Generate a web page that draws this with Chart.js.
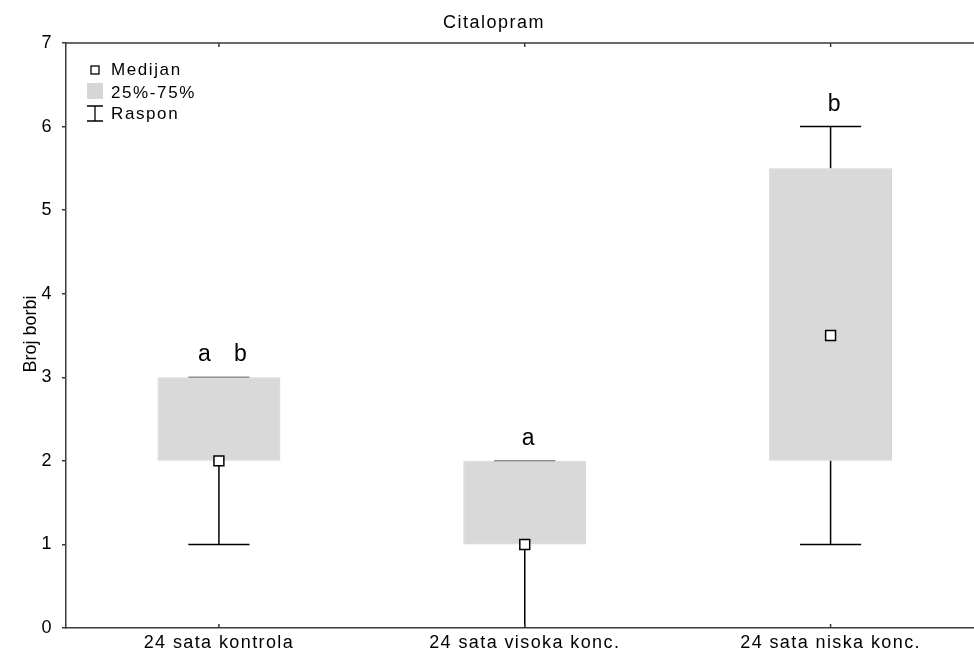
<!DOCTYPE html>
<html>
<head>
<meta charset="utf-8">
<script src="https://cdn.jsdelivr.net/npm/chart.js@4/dist/chart.umd.min.js"></script>
<style>
html,body{margin:0;padding:0;overflow:hidden;background:#fff;}
#wrap{width:992px;height:655px;position:relative;overflow:hidden;}
canvas{display:block;}
</style>
</head>
<body>
<div id="wrap"><canvas id="c" width="992" height="655" style="width:992px;height:655px"></canvas></div>
<script>
const categories = ["24 sata kontrola", "24 sata visoka konc.", "24 sata niska konc."];
const medians = [2, 1, 3.5];
const q1 = [2, 1, 2];
const q3 = [3, 2, 5.5];
const mins = [1, 0, 1];
const maxs = [3, 2, 6];
const letters = ["a   b", "a", "b"];
const yTicks = [0, 1, 2, 3, 4, 5, 6, 7];
const legendLabels = ["Medijan", "25%-75%", "Raspon"];
const titleText = "Citalopram";
const yTitle = "Broj borbi";

const FONT = "'Liberation Sans', Arial, sans-serif";
const AXIS = "#3a3a3a";

const extras = {
  id: 'extras',
  beforeDraw(chart) { chart.ctx.letterSpacing = '1.4px'; },
  beforeDatasetsDraw(chart) {
    const ctx = chart.ctx, xs = chart.scales.x, ys = chart.scales.y;
    const capHalf = xs.width / categories.length * 0.1;
    ctx.save();
    ctx.strokeStyle = '#000';
    ctx.lineWidth = 1.5;
    categories.forEach((c, i) => {
      const x = xs.getPixelForValue(i);
      const yMin = ys.getPixelForValue(mins[i]);
      const yMax = ys.getPixelForValue(maxs[i]);
      const yQ1 = ys.getPixelForValue(q1[i]);
      const yQ3 = ys.getPixelForValue(q3[i]);
      ctx.beginPath();
      ctx.moveTo(x, yQ1); ctx.lineTo(x, yMin);
      ctx.moveTo(x, yQ3); ctx.lineTo(x, yMax);
      ctx.stroke();
      ctx.beginPath();
      if (maxs[i] === q3[i]) { ctx.strokeStyle = '#8a8a8a'; } else { ctx.strokeStyle = '#000'; }
      ctx.moveTo(x - capHalf, yMax); ctx.lineTo(x + capHalf, yMax);
      ctx.stroke();
      ctx.strokeStyle = '#000';
      if (mins[i] > ys.min) {
        ctx.beginPath();
        ctx.moveTo(x - capHalf, yMin); ctx.lineTo(x + capHalf, yMin);
        ctx.stroke();
      }
    });
    ctx.restore();
  },
  afterDatasetsDraw(chart) {
    const ctx = chart.ctx, xs = chart.scales.x, ys = chart.scales.y, a = chart.chartArea;
    ctx.save();
    // top border with inward ticks
    ctx.strokeStyle = AXIS;
    ctx.lineWidth = 1.5;
    ctx.beginPath();
    ctx.moveTo(a.left, a.top); ctx.lineTo(a.right, a.top);
    categories.forEach((c, i) => {
      const x = xs.getPixelForValue(i);
      ctx.moveTo(x, a.top); ctx.lineTo(x, a.top + 4);
      ctx.moveTo(x, a.bottom); ctx.lineTo(x, a.bottom - 4);
    });
    ctx.stroke();
    // letters
    ctx.fillStyle = '#000';
    ctx.letterSpacing = '1px';
    ctx.font = "23px " + FONT;
    ctx.textAlign = 'center';
    ctx.textBaseline = 'alphabetic';
    letters.forEach((t, i) => {
      const x = xs.getPixelForValue(i);
      ctx.fillText(t, x + 4, ys.getPixelForValue(maxs[i]) - 16);
    });
    // title
    ctx.letterSpacing = '1.5px';
    ctx.font = "18px " + FONT;
    ctx.fillText(titleText, 494, 28);
    // y axis title
    ctx.save();
    ctx.letterSpacing = '0px';
    ctx.translate(36, 334);
    ctx.rotate(-Math.PI / 2);
    ctx.textAlign = 'center';
    ctx.fillText(yTitle, 0, 0);
    ctx.restore();
    // legend
    const lx = a.left + 29, ly = a.top + 27;
    ctx.letterSpacing = '1.6px';
    ctx.font = "17px " + FONT;
    ctx.textAlign = 'left';
    ctx.strokeStyle = '#000';
    ctx.lineWidth = 1.3;
    ctx.fillStyle = '#fff';
    ctx.fillRect(lx - 4, ly - 4, 8, 8);
    ctx.strokeRect(lx - 4, ly - 4, 8, 8);
    ctx.fillStyle = '#d6d6d6';
    ctx.fillRect(lx - 8, ly + 13, 16, 16);
    ctx.beginPath();
    ctx.moveTo(lx, ly + 36); ctx.lineTo(lx, ly + 51);
    ctx.moveTo(lx - 8, ly + 36); ctx.lineTo(lx + 8, ly + 36);
    ctx.moveTo(lx - 8, ly + 51); ctx.lineTo(lx + 8, ly + 51);
    ctx.stroke();
    ctx.fillStyle = '#000';
    ctx.fillText(legendLabels[0], lx + 16, ly + 5);
    ctx.fillText(legendLabels[1], lx + 16, ly + 28);
    ctx.fillText(legendLabels[2], lx + 16, ly + 49);
    ctx.restore();
  },
  afterDraw(chart) { chart.ctx.letterSpacing = '0px'; }
};

new Chart(document.getElementById('c'), {
  type: 'bar',
  data: {
    labels: categories,
    datasets: [
      {
        type: 'line',
        label: 'Medijan',
        data: medians,
        showLine: false,
        pointStyle: 'rect',
        pointRadius: 7,
        pointBackgroundColor: '#fff',
        pointBorderColor: '#000',
        pointBorderWidth: 1.5,
        order: 1
      },
      {
        label: '25%-75%',
        data: categories.map((c, i) => [q1[i], q3[i]]),
        backgroundColor: 'rgba(200,200,200,0.69)',
        borderColor: 'rgba(170,170,170,0.5)',
        borderWidth: 1,
        borderSkipped: false,
        categoryPercentage: 1,
        barPercentage: 0.402,
        order: 2
      }
    ]
  },
  options: {
    responsive: false,
    maintainAspectRatio: false,
    devicePixelRatio: 1,
    animation: false,
    events: [],
    layout: { padding: { top: 43, left: 0, right: 0, bottom: 0 } },
    plugins: { legend: { display: false }, tooltip: { enabled: false }, title: { display: false } },
    scales: {
      x: {
        grid: { display: false, drawTicks: false },
        border: { display: true, color: AXIS, width: 1.5 },
        ticks: { color: '#000', font: { family: FONT, size: 18 }, padding: 4, maxRotation: 0, autoSkip: false },
        afterFit(s) { s.height = 27; }
      },
      y: {
        min: 0, max: 7,
        afterBuildTicks(s) { s.ticks = yTicks.map(v => ({ value: v })); },
        grid: { drawOnChartArea: false, drawTicks: true, tickLength: 4, color: AXIS, lineWidth: 1.5 },
        border: { display: true, color: AXIS, width: 1.5 },
        ticks: { color: '#000', font: { family: FONT, size: 18 }, padding: 9 },
        afterFit(s) { s.width = 66; }
      }
    }
  },
  plugins: [extras]
});
</script>
</body>
</html>
